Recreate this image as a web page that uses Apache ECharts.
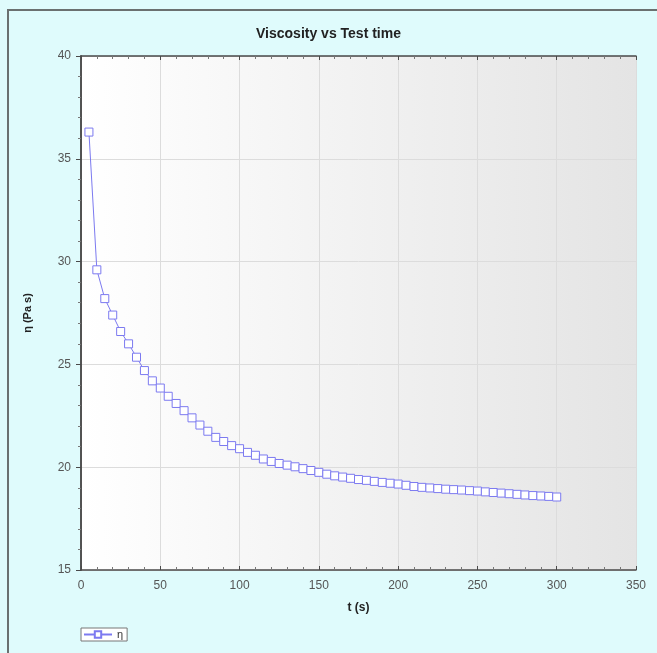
<!DOCTYPE html>
<html>
<head>
<meta charset="utf-8">
<script src="https://cdn.jsdelivr.net/npm/echarts@6/dist/echarts.min.js"></script>
<style>
html,body{margin:0;padding:0;background:#dffbfc;}
#frame{position:absolute;left:7px;top:9px;width:650px;height:644px;border-left:2px solid #6a7070;border-top:2px solid #6a7070;box-sizing:border-box;}
#chart{position:absolute;left:0;top:0;width:657px;height:653px;}
</style>
</head>
<body>
<div id="frame"></div>
<div id="chart"></div>
<script>
const titleText = 'Viscosity vs Test time';
const xName = 't (s)';
const yName = 'η (Pa s)';
const seriesName = 'η';
const times = [5,10,15,20,25,30,35,40,45,50,55,60,65,70,75,80,85,90,95,100,105,110,115,120,125,130,135,140,145,150,155,160,165,170,175,180,185,190,195,200,205,210,215,220,225,230,235,240,245,250,255,260,265,270,275,280,285,290,295,300];
const viscosity = [36.3,29.6,28.2,27.4,26.6,26.0,25.35,24.7,24.2,23.85,23.45,23.1,22.75,22.4,22.05,21.75,21.45,21.25,21.05,20.9,20.72,20.58,20.4,20.28,20.18,20.1,20.02,19.93,19.84,19.75,19.66,19.58,19.52,19.46,19.4,19.36,19.31,19.26,19.22,19.18,19.12,19.06,19.02,18.99,18.96,18.93,18.91,18.89,18.86,18.84,18.8,18.77,18.74,18.71,18.68,18.65,18.62,18.6,18.58,18.55];

const chart = echarts.init(document.getElementById('chart'), null, {renderer:'canvas'});
const lineColor = '#7c7af0';
const axisCol = '#4a4a4a';
const font = 'Liberation Sans, Arial, sans-serif';
const gridLine = {show:true,lineStyle:{color:'#dcdcdc',width:1}};
chart.setOption({
  animation:false,
  backgroundColor:'transparent',
  title:{text:titleText,left:'center',top:22,textStyle:{fontFamily:font,fontSize:14,fontWeight:'bold',color:'#222'}},
  grid:{left:81,right:21,top:56,bottom:83,show:true,borderWidth:0,
    backgroundColor:new echarts.graphic.LinearGradient(0,0,1,0,[{offset:0,color:'#ffffff'},{offset:1,color:'#e4e4e4'}])},
  legend:{left:81,top:628,data:[seriesName],itemWidth:28,itemHeight:8,itemGap:4,
    borderColor:'#777',borderWidth:1,padding:[1,4,1,2],backgroundColor:'#ffffff',
    textStyle:{fontFamily:font,fontSize:11,color:'#333'}},
  xAxis:[{type:'value',min:0,max:350,interval:50,name:xName,nameLocation:'middle',nameGap:32,
    nameTextStyle:{fontFamily:font,fontSize:12,fontWeight:'bold',color:'#222'},
    axisLine:{show:true,lineStyle:{color:axisCol,width:1.5}},
    axisTick:{show:true,inside:true,length:4,lineStyle:{color:axisCol}},
    minorTick:{show:true,splitNumber:5,length:3,lineStyle:{color:'#777'}},
    axisLabel:{fontFamily:font,fontSize:12,color:'#555',margin:10},
    splitLine:gridLine},
   {type:'value',position:'top',min:0,max:350,interval:50,
    axisLine:{show:true,lineStyle:{color:axisCol,width:1.5}},
    axisTick:{show:true,inside:true,length:4,lineStyle:{color:axisCol}},
    minorTick:{show:true,splitNumber:5,length:3,lineStyle:{color:'#777'}},
    axisLabel:{show:false},splitLine:{show:false}}],
  yAxis:[{type:'value',min:15,max:40,interval:5,name:yName,nameLocation:'middle',nameGap:48,
    nameTextStyle:{fontFamily:font,fontSize:11,fontWeight:'bold',color:'#222'},
    axisLine:{show:true,lineStyle:{color:axisCol,width:1.5}},
    axisTick:{show:true,inside:false,length:5,lineStyle:{color:axisCol}},
    minorTick:{show:true,splitNumber:5,length:3,lineStyle:{color:'#777'}},
    axisLabel:{fontFamily:font,fontSize:12,color:'#555',margin:10},
    splitLine:gridLine},
   {type:'value',position:'right',min:15,max:40,interval:5,
    axisLine:{show:true,lineStyle:{color:axisCol,width:1.5}},
    axisTick:{show:true,inside:true,length:4,lineStyle:{color:axisCol}},
    minorTick:{show:true,splitNumber:5,length:3,lineStyle:{color:'#777'}},
    axisLabel:{show:false},splitLine:{show:false}}],
  series:[{name:seriesName,type:'line',data:times.map((t,i)=>[t,viscosity[i]]),
    symbol:'rect',symbolSize:8,showAllSymbol:true,
    itemStyle:{color:'#ffffff',borderColor:lineColor,borderWidth:1},
    lineStyle:{color:lineColor,width:1}}]
});
</script>
</body>
</html>
